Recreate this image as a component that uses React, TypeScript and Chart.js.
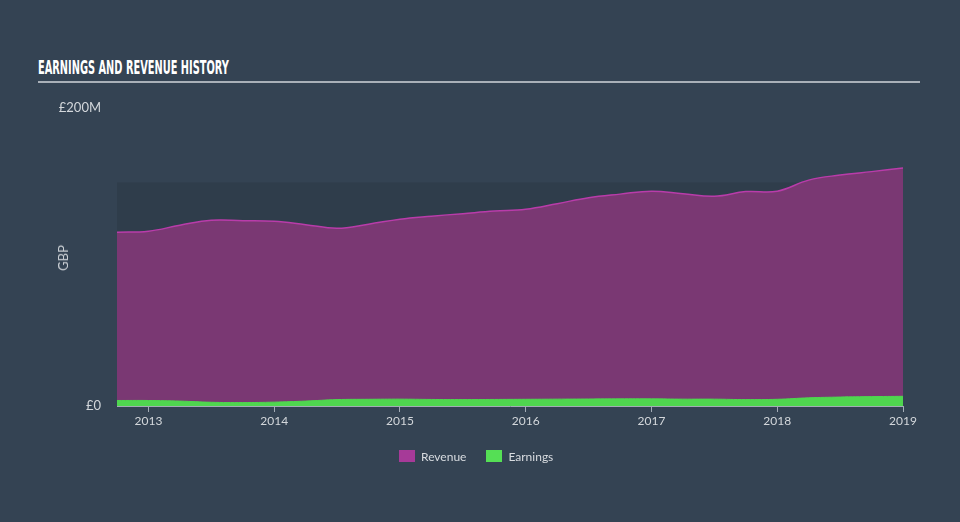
import React, { useEffect, useRef } from "react";
import { Chart, registerables } from "chart.js";

Chart.register(...registerables);

const dates = [
  2012.75, 2013.0, 2013.25, 2013.5, 2013.75, 2014.0, 2014.25, 2014.5, 2014.75,
  2015.0, 2015.25, 2015.5, 2015.75, 2016.0, 2016.25, 2016.5, 2016.75, 2017.0,
  2017.25, 2017.5, 2017.75, 2018.0, 2018.25, 2018.5, 2018.75, 2019.0,
];
const revenue = [
  116.6, 117.3, 121.3, 124.7, 124.4, 124.0, 121.7, 119.3, 122.0, 125.4, 127.4,
  129.1, 130.8, 132.1, 135.8, 139.8, 142.2, 144.2, 142.5, 140.8, 143.9, 144.2,
  151.6, 155.0, 157.3, 159.7,
];
const earnings = [
  3.7, 3.7, 3.3, 2.5, 2.3, 2.6, 3.3, 4.3, 4.5, 4.6, 4.4, 4.3, 4.4, 4.5, 4.6,
  4.7, 4.8, 4.8, 4.6, 4.6, 4.3, 4.5, 5.5, 6.0, 6.3, 6.5,
];
const xTicks = [2013, 2014, 2015, 2016, 2017, 2018, 2019];
const yTicks = [0, 200];
const bandTop = 150;
const xMin = 2012.75;
const xMax = 2019.0;

const BG = "#344353";

export default function App() {
  const canvasRef = useRef<HTMLCanvasElement | null>(null);
  const titleRef = useRef<HTMLSpanElement | null>(null);

  useEffect(() => {
    if (titleRef.current) {
      const w = titleRef.current.offsetWidth;
      if (w > 0) titleRef.current.style.transform = `scaleX(${191 / w})`;
    }
    const canvas = canvasRef.current;
    if (!canvas) return;

    const bandPlugin = {
      id: "band",
      beforeDatasetsDraw(chart: any) {
        const { ctx, scales } = chart;
        const x = scales.x;
        const y = scales.y;
        const left = x.getPixelForValue(xMin);
        const right = x.getPixelForValue(xMax);
        const top = y.getPixelForValue(bandTop);
        const bottom = y.getPixelForValue(0);
        ctx.save();
        ctx.fillStyle = "#2f3d4b";
        ctx.fillRect(left, top, right - left, bottom - top);
        ctx.restore();
      },
    };

    const chart = new Chart(canvas, {
      type: "line",
      data: {
        datasets: [
          {
            label: "Earnings",
            data: dates.map((d, i) => ({ x: d, y: earnings[i] })),
            borderColor: "#4fd64f",
            backgroundColor: "#4fd64f",
            borderWidth: 1,
            fill: "origin",
            pointRadius: 0,
            tension: 0.4,
          },
          {
            label: "Revenue",
            data: dates.map((d, i) => ({ x: d, y: revenue[i] })),
            borderColor: "#b93caa",
            backgroundColor: "#7a3873",
            borderWidth: 1.5,
            fill: "origin",
            pointRadius: 0,
            tension: 0.4,
          },
        ],
      },
      options: {
        responsive: false,
        maintainAspectRatio: false,
        animation: false,
        layout: { padding: { top: 108, right: 57, left: 0, bottom: 0 } },
        plugins: {
          legend: { display: false },
          tooltip: { enabled: false },
        },
        scales: {
          x: {
            type: "linear",
            min: xMin,
            max: xMax,
            afterBuildTicks: (scale: any) => {
              scale.ticks = xTicks.map((v) => ({ value: v }));
            },
            afterFit: (scale: any) => {
              scale.height = 116;
            },
            ticks: {
              color: "#d3d7db",
              font: { family: "Lato", size: 12 },
              padding: 2,
              maxRotation: 0,
              autoSkip: false,
              callback: (v: any) => String(v),
            },
            grid: {
              display: true,
              drawOnChartArea: false,
              drawTicks: true,
              tickLength: 6,
              color: "#a3acb6",
            },
            border: { display: true, color: "#a3acb6", width: 1 },
          },
          y: {
            type: "linear",
            min: 0,
            max: 200,
            afterBuildTicks: (scale: any) => {
              scale.ticks = yTicks.map((v) => ({ value: v }));
            },
            afterFit: (scale: any) => {
              scale.width = 117;
            },
            ticks: {
              color: "#d3d7db",
              font: { family: "Lato", size: 13 },
              padding: 16,
              callback: (v: any) => (v === 0 ? "£0" : `£${v}M`),
            },
            grid: { display: false, drawTicks: false },
            border: { display: false },
          },
        },
      },
      plugins: [bandPlugin],
    });
    return () => chart.destroy();
  }, []);

  return (
    <div
      style={{
        position: "fixed",
        left: 0,
        top: 0,
        width: 960,
        height: 522,
        background: BG,
        overflow: "hidden",
      }}
    >
      <div
        style={{
          position: "absolute",
          left: 38,
          top: 56,
          height: 22,
          whiteSpace: "nowrap",
        }}
      >
        <span
          ref={titleRef}
          style={{
            display: "inline-block",
            transformOrigin: "left center",
            fontFamily: "'Liberation Sans Narrow', 'DejaVu Sans Condensed', sans-serif",
            fontWeight: 700,
            fontSize: 20,
            lineHeight: "22px",
            color: "#ffffff",
          }}
        >
          EARNINGS AND REVENUE HISTORY
        </span>
      </div>
      <div
        style={{
          position: "absolute",
          left: 38,
          top: 81,
          width: 882,
          height: 2,
          background: "#a9b0b8",
        }}
      />
      <canvas
        ref={canvasRef}
        width={960}
        height={522}
        style={{ position: "absolute", left: 0, top: 0, width: 960, height: 522 }}
      />
      <div
        style={{
          position: "absolute",
          left: 63,
          top: 258,
          transform: "translate(-50%, -50%) rotate(-90deg)",
          fontFamily: "Lato, sans-serif",
          fontSize: 13,
          color: "#c9ced3",
          whiteSpace: "nowrap",
        }}
      >
        GBP
      </div>
      <div
        style={{
          position: "absolute",
          left: 399,
          top: 448,
          display: "flex",
          alignItems: "center",
          fontFamily: "Lato, sans-serif",
          fontSize: 12,
          color: "#d8dce0",
          whiteSpace: "nowrap",
          height: 16,
        }}
      >
        <span style={{ display: "inline-block", width: 16, height: 12, background: "#a63a98", marginRight: 6 }} />
        <span style={{ marginRight: 20 }}>Revenue</span>
        <span style={{ display: "inline-block", width: 16, height: 12, background: "#55df55", marginRight: 6 }} />
        <span>Earnings</span>
      </div>
    </div>
  );
}
